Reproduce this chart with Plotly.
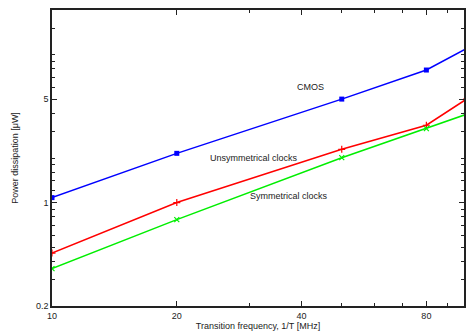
import plotly.graph_objects as go
import math

freq = [10, 20, 50, 80, 100]
cmos = [1.08, 2.15, 5.0, 7.86, 11.0]
unsym = [0.456, 1.0, 2.29, 3.33, 5.0]
sym = [0.358, 0.767, 2.01, 3.16, 3.95]

x_ticks = [10, 20, 40, 80]
x_minor = [30, 50, 60, 70, 90]
y_ticks = [0.2, 1, 5]
y_minor = [0.3, 0.4, 0.5, 0.6, 0.7, 0.8, 0.9, 1.2, 1.4, 1.6, 1.8, 2, 3, 4, 6, 7, 8, 9, 10, 15]

font = "Liberation Sans, Arial, Helvetica, sans-serif"

fig = go.Figure()
fig.add_trace(go.Scatter(x=freq, y=cmos, mode="lines+markers", name="CMOS",
                         line=dict(color="#0000ff", width=1.5),
                         marker=dict(symbol="square", size=5, color="#0000ff")))
fig.add_trace(go.Scatter(x=freq, y=unsym, mode="lines+markers", name="Unsymmetrical clocks",
                         line=dict(color="#ff0000", width=1.5),
                         marker=dict(symbol="cross-thin", size=5, line=dict(color="#ff0000", width=1.2))))
fig.add_trace(go.Scatter(x=freq, y=sym, mode="lines+markers", name="Symmetrical clocks",
                         line=dict(color="#00ee00", width=1.5),
                         marker=dict(symbol="x-thin", size=5, line=dict(color="#00ee00", width=1.2))))

labels = [("CMOS", 42.1, 6.03), ("Unsymmetrical clocks", 30.7, 1.99), ("Symmetrical clocks", 37.3, 1.1)]
for txt, xv, yv in labels:
    fig.add_annotation(x=math.log10(xv), y=math.log10(yv), text=txt, showarrow=False,
                       font=dict(family=font, size=9, color="#222222"))

fig.update_layout(
    width=466, height=335,
    margin=dict(l=52, r=0, t=10, b=29),
    plot_bgcolor="white", paper_bgcolor="white",
    showlegend=False,
    font=dict(family=font, size=9, color="#222222"),
)
fig.update_xaxes(type="log", range=[1, math.log10(98.6)],
                 tickvals=x_ticks, ticktext=[str(v) for v in x_ticks],
                 ticks="inside", ticklen=5, tickwidth=1, tickcolor="#222",
                 showline=True, linecolor="#222", linewidth=1.5, mirror="allticks",
                 showgrid=False, zeroline=False,
                 minor=dict(tickvals=x_minor, ticks="inside", ticklen=3, tickcolor="#222", showgrid=False),
                 title=dict(text="Transition frequency, 1/T [MHz]", standoff=3, font=dict(size=9)),
                 tickfont=dict(size=9))
fig.update_yaxes(type="log", range=[math.log10(0.2), math.log10(20)],
                 tickvals=y_ticks, ticktext=["0.2", "1", "5"],
                 ticks="inside", ticklen=5, tickwidth=1, tickcolor="#222",
                 showline=True, linecolor="#222", linewidth=1.5, mirror="allticks",
                 showgrid=False, zeroline=False,
                 minor=dict(tickvals=y_minor, ticks="inside", ticklen=3, tickcolor="#222", showgrid=False),
                 title=dict(text="Power dissipation [μW]", standoff=16, font=dict(size=9)),
                 tickfont=dict(size=9))

fig.write_html("out.html", config={"displayModeBar": False})

with open("out.html", "r", encoding="utf-8") as f:
    html = f.read()
html = html.replace("<head>", "<head><style>html,body{margin:0;padding:0;overflow:hidden;}</style>", 1)
with open("out.html", "w", encoding="utf-8") as f:
    f.write(html)
